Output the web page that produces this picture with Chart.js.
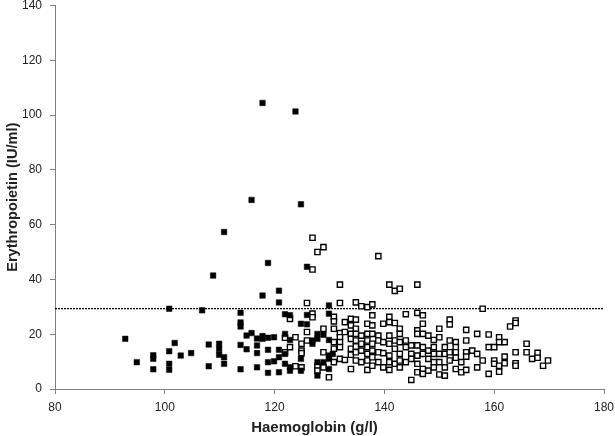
<!DOCTYPE html>
<html>
<head>
<meta charset="utf-8">
<script src="https://cdn.jsdelivr.net/npm/chart.js@4"></script>
<style>
  html, body { margin: 0; padding: 0; background: #fff; }
  #wrap { width: 615px; height: 436px; }
</style>
</head>
<body>
<div id="wrap"><canvas id="chart"></canvas></div>
<script>
// Anaemic subjects (filled squares): haemoglobin g/l and erythropoietin IU/ml
const anaemicHb = [
  92.8, 94.9, 97.9, 97.9, 97.9, 100.8, 100.8, 100.8, 100.8, 101.8,
  102.9, 104.8, 106.8, 108.0, 108.0, 108.8, 109.9, 109.9, 109.9, 110.8,
  110.8, 110.8, 113.8, 113.8, 113.8, 113.8, 113.8, 114.9, 114.9, 115.8,
  115.8, 116.8, 116.8, 116.8, 116.8, 117.8, 117.8, 117.8, 117.8, 118.8,
  118.8, 118.8, 118.8, 118.8, 119.9, 119.9, 120.8, 120.8, 120.8, 120.8,
  120.8, 121.9, 121.9, 121.9, 121.9, 122.8, 122.8, 122.8, 122.8, 123.8,
  124.8, 124.8, 124.8, 124.8, 125.9, 125.9, 125.9, 126.9, 126.9, 127.8,
  127.8, 127.8, 127.8, 128.9, 128.9, 129.9, 129.9, 129.9, 129.9, 129.9,
  129.9, 130.6
];
const anaemicEpo = [
  18.3, 9.8, 12.3, 11.0, 7.2, 29.3, 13.8, 9.2, 7.0, 16.8,
  12.2, 13.1, 28.7, 16.2, 8.3, 41.4, 16.5, 14.6, 12.5, 57.3,
  11.6, 9.2, 27.8, 24.3, 22.8, 16.1, 7.2, 19.5, 14.5, 69.0,
  20.4, 18.4, 15.9, 13.1, 7.9, 104.4, 34.1, 19.3, 18.3, 46.0,
  18.7, 14.3, 9.8, 5.9, 18.9, 10.1, 35.9, 31.6, 14.3, 11.6,
  6.1, 27.3, 20.1, 12.8, 9.2, 26.9, 17.9, 7.9, 6.7, 101.3,
  67.4, 23.8, 11.0, 6.7, 44.6, 27.0, 23.6, 17.7, 16.5, 20.1,
  18.3, 9.8, 4.9, 19.8, 9.8, 30.5, 27.5, 17.9, 12.2, 11.0,
  7.3, 12.8
];

// Non-anaemic subjects (open squares), grouped by haemoglobin column
const normalHb = [
  121.9, 122.8, 123.8, 124.9, 125.9, 126.9, 127.8, 128.9, 129.9, 130.8,
  131.9, 132.8, 133.9, 134.8, 135.8, 136.9, 137.8, 138.9, 139.8, 140.9,
  141.9, 142.8, 143.9, 144.9, 146.0, 147.0, 148.0, 149.0, 150.0, 151.0,
  151.9, 153.0, 154.0, 154.9, 156.0, 156.9, 157.9, 159.0, 160.0, 160.9,
  161.9, 162.9, 163.9, 165.9, 166.9, 167.9, 168.9, 169.8
];
const normalEpo = [
  [13.4, 18.7], [25.6, 15.3], [18.9, 8.3], [16.5, 14.0, 13.1, 7.9],
  [31.4, 20.8, 17.7], [55.2, 43.6, 27.5, 26.2], [50.0, 8.5, 6.7],
  [51.8, 22.0, 13.4, 7.9], [4.3], [26.3, 24.7, 22.0, 17.1, 14.7, 9.8],
  [38.1, 31.4, 20.4, 18.9, 17.1, 15.3, 11.0], [24.4, 20.8, 10.6],
  [25.6, 23.2, 20.1, 18.3, 14.7, 12.5, 7.3],
  [31.6, 25.3, 22.0, 20.1, 17.7, 15.5, 13.4, 10.4],
  [30.2, 19.5, 16.5, 14.0, 9.8],
  [29.9, 23.8, 20.1, 17.7, 15.3, 12.8, 10.4, 7.0],
  [30.9, 26.9, 23.2, 20.1, 16.5, 14.0, 11.6, 8.5],
  [48.5, 19.5, 17.7, 13.4, 9.8], [23.8, 17.1, 13.1, 7.9],
  [38.1, 26.3, 24.4, 19.5, 16.5, 12.2, 9.8, 7.0],
  [35.8, 24.1, 17.7, 14.7, 9.2], [36.6, 22.0, 20.1, 17.1, 12.8, 10.4, 7.9],
  [27.3, 17.7, 15.3, 9.8], [3.3, 15.9, 12.8, 11.0],
  [38.1, 27.8, 21.4, 20.1, 15.9, 12.2, 9.2, 6.1],
  [26.9, 23.8, 20.1, 15.3, 12.8, 7.3, 5.5], [19.5, 14.0, 11.0, 6.7],
  [17.9, 15.3, 12.8, 9.8, 7.9], [22.0, 18.9, 12.8, 9.8, 5.3],
  [15.3, 12.8, 7.9, 4.9], [25.3, 23.6, 17.7, 13.4, 10.4],
  [17.1, 15.3, 13.4, 11.4, 7.3], [9.8, 6.1], [21.6, 17.7, 13.4, 11.8, 7.0],
  [14.0], [20.1, 12.8, 7.9], [29.3, 10.4], [19.9, 15.3, 5.5],
  [15.3, 10.4, 9.2], [18.9, 17.1, 8.5, 6.3], [17.1, 11.8, 9.4], [22.8],
  [25.0, 24.1, 13.4, 9.4, 8.5], [16.5, 13.4], [11.0], [13.2, 11.4],
  [8.5], [10.4]
];

// Upper reference limit for EPO
const epoCutoff = 29.3;
const xTicks = [80, 100, 120, 140, 160, 180];
const yTicks = [0, 20, 40, 60, 80, 100, 120, 140];
const xTitle = 'Haemoglobin (g/l)';
const yTitle = 'Erythropoietin (IU/ml)';

const anaemicPts = anaemicHb.map((x, i) => ({ x, y: anaemicEpo[i] }));
const normalPts = normalHb.flatMap((x, i) => normalEpo[i].map(y => ({ x, y })));

const axisColor = '#808080';
const fontFamily = 'Liberation Sans, Arial, sans-serif';
const tickFont = { family: fontFamily, size: 12 };

// x-axis title sits a bit left of the plot centre in the original figure
const xTitlePlugin = {
  id: 'xTitle',
  afterDraw(chart) {
    const ctx = chart.ctx;
    const area = chart.chartArea;
    ctx.save();
    ctx.font = 'bold 15px ' + fontFamily;
    ctx.fillStyle = '#222';
    ctx.textAlign = 'center';
    ctx.textBaseline = 'middle';
    ctx.fillText(xTitle, (area.left + area.right) / 2 - 15, chart.height - 8.5);
    ctx.restore();
  }
};

new Chart(document.getElementById('chart').getContext('2d'), {
  type: 'scatter',
  plugins: [xTitlePlugin],
  data: {
    datasets: [
      {
        type: 'line',
        data: [{ x: 80, y: epoCutoff }, { x: 180, y: epoCutoff }],
        borderColor: '#000',
        borderWidth: 1.3,
        borderDash: [2, 1],
        pointRadius: 0,
        fill: false,
        order: 3
      },
      {
        data: normalPts,
        pointStyle: 'rect',
        pointRadius: 3.7,
        backgroundColor: '#fff',
        borderColor: '#000',
        borderWidth: 1.4,
        order: 2
      },
      {
        data: anaemicPts,
        pointStyle: 'rect',
        pointRadius: 3.9,
        backgroundColor: '#000',
        borderColor: '#000',
        borderWidth: 0.5,
        order: 1
      }
    ]
  },
  options: {
    responsive: true,
    maintainAspectRatio: false,
    animation: false,
    layout: { padding: { top: 5, right: 11, left: 0, bottom: 0 } },
    plugins: { legend: { display: false }, tooltip: { enabled: false } },
    scales: {
      x: {
        type: 'linear',
        min: 80,
        max: 180,
        afterBuildTicks: (axis) => { axis.ticks = xTicks.map(v => ({ value: v })); },
        afterFit: (axis) => { axis.height = 47; axis.paddingLeft = 0; axis.paddingRight = 0; },
        ticks: { color: '#222', font: tickFont, padding: 6, maxRotation: 0 },
        grid: { display: true, drawOnChartArea: false, drawTicks: true, tickLength: 5, color: axisColor },
        border: { display: true, color: axisColor, width: 1 },
        title: { display: false }
      },
      y: {
        type: 'linear',
        min: 0,
        max: 140,
        afterBuildTicks: (axis) => { axis.ticks = yTicks.map(v => ({ value: v })); },
        afterFit: (axis) => { axis.width = 55; axis.paddingTop = 0; axis.paddingBottom = 0; },
        ticks: { color: '#222', font: tickFont, padding: 8 },
        grid: { display: true, drawOnChartArea: false, drawTicks: true, tickLength: 5, color: axisColor },
        border: { display: true, color: axisColor, width: 1 },
        title: { display: true, text: yTitle, color: '#222', font: { family: fontFamily, size: 14.6, weight: 'bold' }, padding: { top: 4, bottom: 0 } }
      }
    }
  }
});
</script>
</body>
</html>
